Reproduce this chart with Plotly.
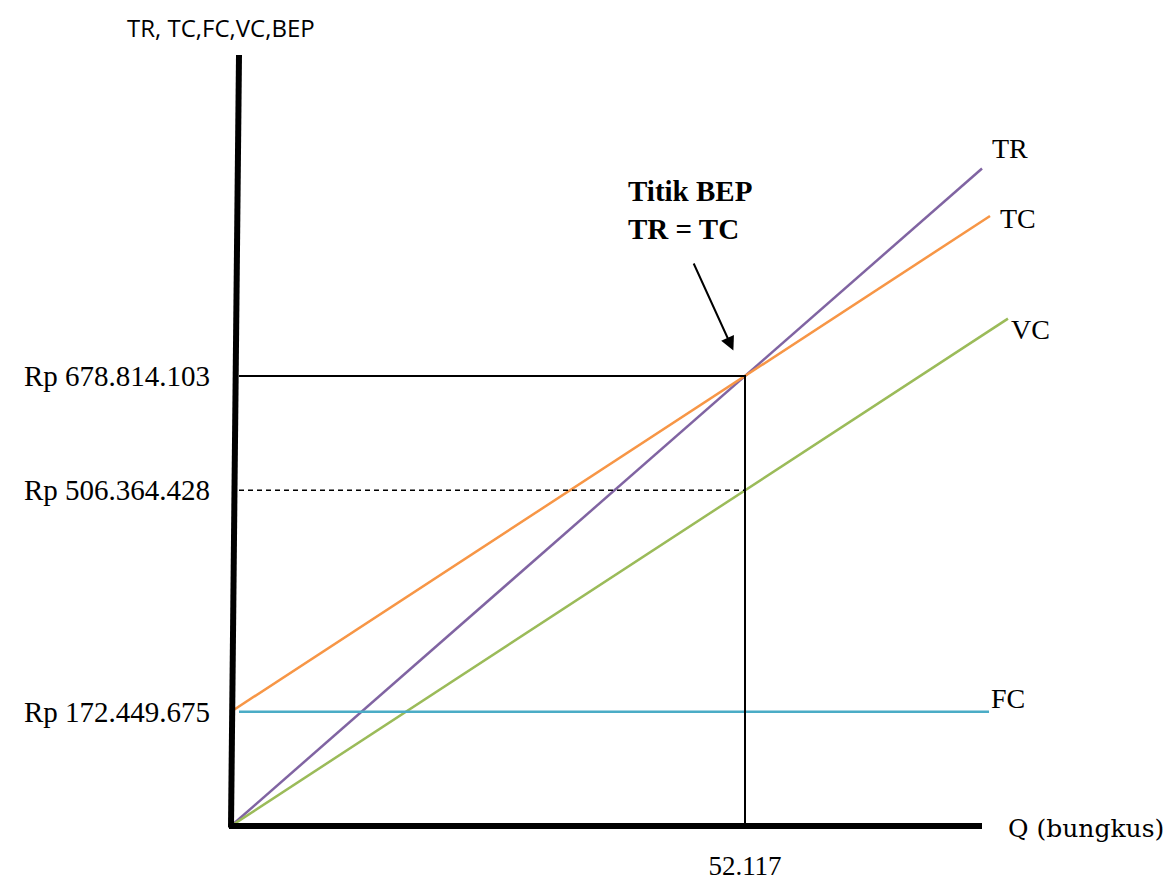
import plotly.graph_objects as go

# ---- data ----
q_bep = 52117                      # Q (bungkus) at break-even
tr_bep = 678814103                 # TR = TC at BEP (Rp)
vc_bep = 506364428                 # VC at BEP (Rp)
fc_val = 172449675                 # fixed cost (Rp)
q_end = {"TR": 76150, "TC": 76960, "VC": 78780, "FC": 76860}   # Q where each drawn line ends
line_names = ["TR", "TC", "VC", "FC"]
colors = {"TR": "#8064A2", "TC": "#F79646", "VC": "#9BBB59", "FC": "#4BACC6"}
y_tick_vals = [fc_val, vc_bep, tr_bep]
y_tick_text = ["Rp 172.449.675", "Rp 506.364.428", "Rp 678.814.103"]
x_tick_vals = [q_bep]
x_tick_text = ["52.117"]

price = tr_bep / q_bep
vc_unit = vc_bep / q_bep

# ---- layout geometry (pixels, in page coordinates; page body has an 8px margin) ----
OFF = 8
FIG_W, FIG_H = 1175 - OFF, 883 - OFF
L, B, W, H = 231, 826, 779, 771      # plot area in page pixels
x_max = q_bep * W / 514
y_max = tr_bep * H / 450


def px(x):
    return (x - L) / W


def py(y):
    return (B - y) / H


serif = "Liberation Serif, Times New Roman, serif"

fig = go.Figure()

# lines
fig.add_trace(go.Scatter(x=[0, q_end["TR"]], y=[0, price * q_end["TR"]], mode="lines",
                         line=dict(color=colors["TR"], width=2.5), name="TR"))
fig.add_trace(go.Scatter(x=[0, q_end["TC"]], y=[fc_val, fc_val + vc_unit * q_end["TC"]], mode="lines",
                         line=dict(color=colors["TC"], width=2.5), name="TC"))
fig.add_trace(go.Scatter(x=[0, q_end["VC"]], y=[0, vc_unit * q_end["VC"]], mode="lines",
                         line=dict(color=colors["VC"], width=2.5), name="VC"))
gap = x_max * 8 / W
fig.add_trace(go.Scatter(x=[gap, q_end["FC"]], y=[fc_val, fc_val], mode="lines",
                         line=dict(color=colors["FC"], width=2.5), name="FC"))

# BEP guide lines
fig.add_trace(go.Scatter(x=[gap, q_bep, q_bep], y=[tr_bep, tr_bep, 0], mode="lines",
                         line=dict(color="black", width=2)))
fig.add_trace(go.Scatter(x=[gap, q_bep], y=[vc_bep, vc_bep], mode="lines",
                         line=dict(color="black", width=1.5, dash="5px,4px")))

shapes = [
    # y axis (slightly slanted thick line)
    dict(type="line", xref="paper", yref="paper", x0=0, y0=-0.002, x1=px(239), y1=1,
         line=dict(color="black", width=6)),
    # x axis
    dict(type="line", xref="paper", yref="paper", x0=px(229), y0=0, x1=px(982), y1=0,
         line=dict(color="black", width=6)),
]

annotations = [
    dict(text="TR, TC,FC,VC,BEP", xref="paper", yref="paper", x=px(221), y=py(9),
         xanchor="center", yanchor="top",
         showarrow=False, font=dict(family="Open Sans, sans-serif", size=24, color="black")),
    dict(text="<b>Titik BEP</b><br><b>TR = TC</b>", xref="paper", yref="paper",
         x=px(626), y=py(173), xanchor="left", yanchor="top", align="left", showarrow=False,
         font=dict(family=serif, size=29, color="black")),
    dict(text="", x=q_bep, y=tr_bep, xref="x", yref="y", ax=-52, ay=-114, showarrow=True,
         arrowhead=2, arrowsize=1.4, arrowwidth=2, arrowcolor="black", standoff=28),
    dict(text="Q (bungkus)", xref="paper", yref="paper", x=px(1006), y=py(828),
         xanchor="left", yanchor="middle", showarrow=False,
         font=dict(family="DejaVu Serif, serif", size=25, color="black")),
]
label_pos = {"TR": (990, 148), "TC": (998, 218), "VC": (1009, 330), "FC": (989, 698)}
for n in line_names:
    xp, yp = label_pos[n]
    annotations.append(dict(text=n, xref="paper", yref="paper", x=px(xp), y=py(yp),
                            xanchor="left", yanchor="middle", showarrow=False,
                            font=dict(family=serif, size=28, color="black")))

fig.update_layout(
    width=FIG_W, height=FIG_H,
    margin=dict(l=L - OFF, r=OFF + FIG_W - L - W, t=B - H - OFF, b=OFF + FIG_H - B,
                autoexpand=False),
    paper_bgcolor="white", plot_bgcolor="white",
    showlegend=False,
    shapes=shapes,
    annotations=annotations,
    xaxis=dict(range=[0, x_max], showgrid=False, zeroline=False, showline=False,
               tickvals=x_tick_vals, ticktext=x_tick_text, ticks="",
               ticklabelstandoff=21,
               tickfont=dict(family=serif, size=27, color="black")),
    yaxis=dict(range=[0, y_max], showgrid=False, zeroline=False, showline=False,
               tickvals=y_tick_vals, ticktext=y_tick_text, ticks="",
               ticklabelstandoff=20,
               tickfont=dict(family=serif, size=29, color="black")),
)

fig.write_html("out.html")
